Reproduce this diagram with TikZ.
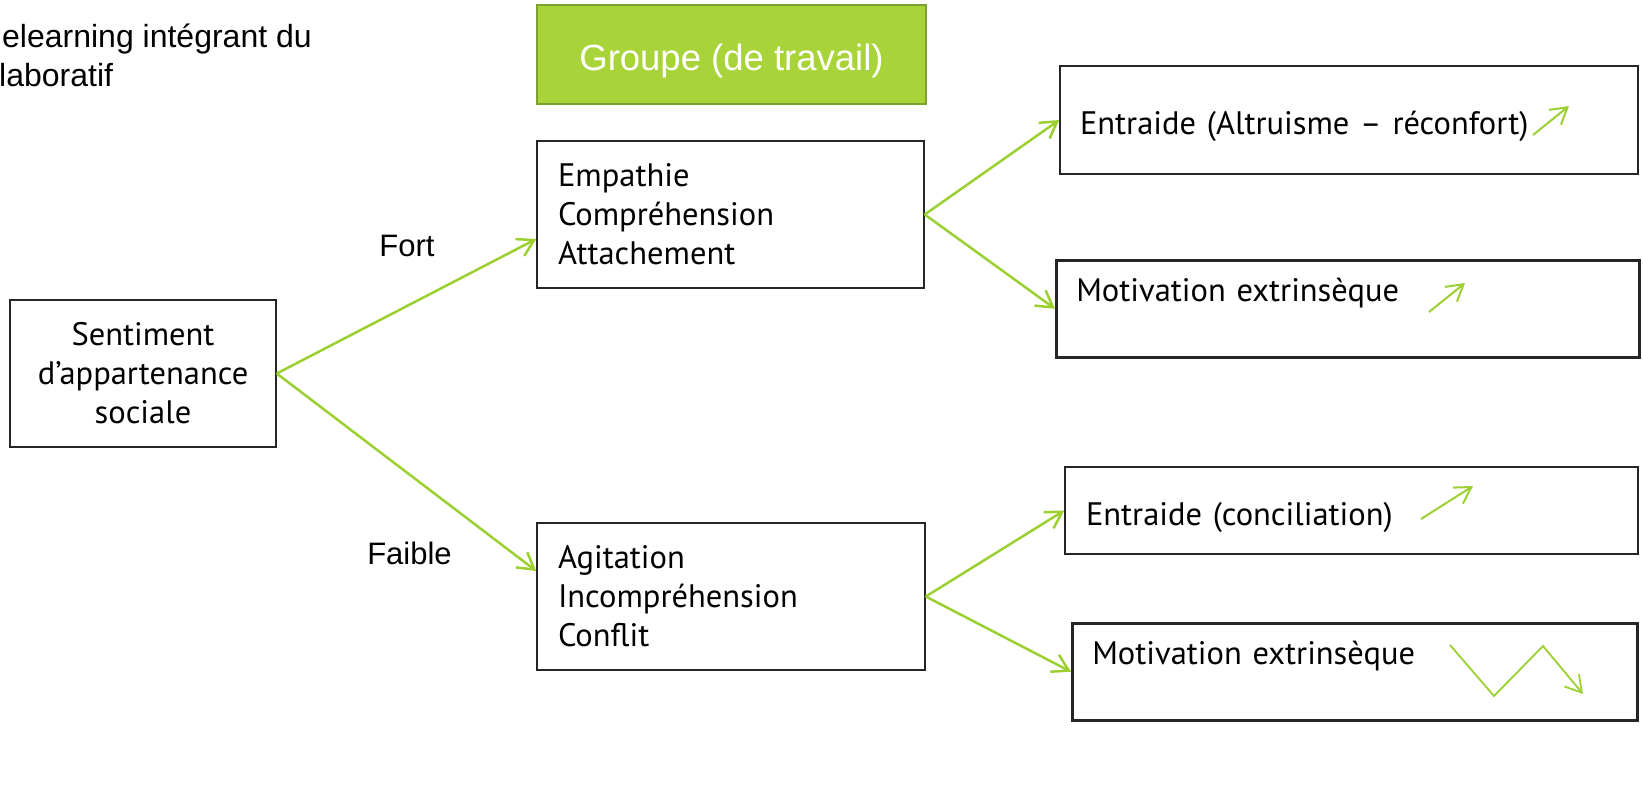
\documentclass[tikz,border=0pt]{standalone}
\usepackage{fontspec}
\usepackage{tikz}
\usetikzlibrary{arrows.meta}
\newfontfamily\boitefont{PT Sans}
\newfontfamily\arialfont{Liberation Sans}
\definecolor{vertfleche}{RGB}{155,208,48}
\definecolor{vertgroupe}{RGB}{168,212,58}
\definecolor{vertbord}{RGB}{122,162,45}

\begin{document}
\begin{tikzpicture}[x=1pt, y=-1pt,
  boite/.style={draw=black!85, line width=1.5pt, inner ysep=3pt,
    font=\boitefont\fontsize{32.5}{39}\selectfont},
  motbox/.style={boite, line width=2.5pt, inner ysep=0pt,
    text height=41pt, text depth=56pt},
  fleche/.style={draw=vertfleche, line width=2.5pt,
    -{Straight Barb[length=16pt, width=19pt]}},
  titrefont/.style={font=\arialfont\fontsize{32}{38}\selectfont}]

\useasboundingbox (0,0) rectangle (1643,806);

% titre coupe a gauche
\draw (2,47) node[titrefont, anchor=base west, inner sep=0pt] (titreA) {elearning intégrant du};
\draw (-1,86) node[titrefont, anchor=base west, inner sep=0pt] (titreB) {laboratif};

% groupe
\draw (731.5,54.5) node[fill=vertgroupe, draw=vertbord, line width=2.5pt,
  minimum width=389pt, minimum height=99pt, text=white, text height=32pt, text depth=0pt,
  font=\arialfont\fontsize{36.5}{44}\selectfont] (groupe) {Groupe (de travail)};

% boites
\draw (143,373.5) node[boite, align=center, minimum width=266pt,
  minimum height=147pt] (sentiment) {Sentiment\\d’appartenance\\sociale};
\draw (730.5,214.5) node[boite, align=left, text width=345pt, inner xsep=21pt,
  minimum height=147pt] (empathie) {Empathie\\Compréhension\\Attachement};
\draw (731,596.5) node[boite, align=left, text width=346pt, inner xsep=21pt,
  minimum height=147pt] (agitation) {Agitation\\Incompréhension\\Conflit};

\draw (1349,120) node[boite, align=left, text width=538pt, inner xsep=20pt,
  inner ysep=0pt, text height=68pt, text depth=40pt] (entraideA) {Entraide (Altruisme – réconfort)};
\draw (1055,259) node[motbox, anchor=north west, align=left, text width=543pt,
  inner xsep=20pt] (motivationA) {Motivation extrinsèque};
\draw (1351.5,510.5) node[boite, align=left, text width=531pt, inner xsep=21pt,
  inner ysep=0pt, text height=58pt, text depth=29pt] (entraideB) {Entraide (conciliation)};
\draw (1071,622) node[motbox, anchor=north west, align=left, text width=525pt,
  inner xsep=20pt] (motivationB) {Motivation extrinsèque};

% fort / faible
\draw (407,246) node[titrefont, font=\arialfont\fontsize{31}{37}\selectfont] (fort) {Fort};
\draw (409.5,553) node[titrefont, font=\arialfont\fontsize{31}{37}\selectfont] (faible) {Faible};

% fleches
\draw[fleche] (sentiment.east) -- ([yshift=-24.5pt]empathie.west);
\draw[fleche] (sentiment.east) -- ([yshift=25.5pt]agitation.west);
\draw[fleche] (empathie.east) -- (entraideA.west);
\draw[fleche] (empathie.east) -- (motivationA.west);
\draw[fleche] (agitation.east) -- (entraideB.west);
\draw[fleche] (agitation.east) -- (motivationB.west);

% petites fleches dans les boites
\draw[fleche, line width=2pt] (1533,135) -- (1569,106);
\draw[fleche, line width=2pt] (1429,312) -- (1465,283);
\draw[fleche, line width=2pt] (1421,519) -- (1473,486);
\draw[fleche, line width=1.8pt] (1450,645) -- (1494,696) -- (1543,646) -- (1583,694);
\end{tikzpicture}
\end{document}
